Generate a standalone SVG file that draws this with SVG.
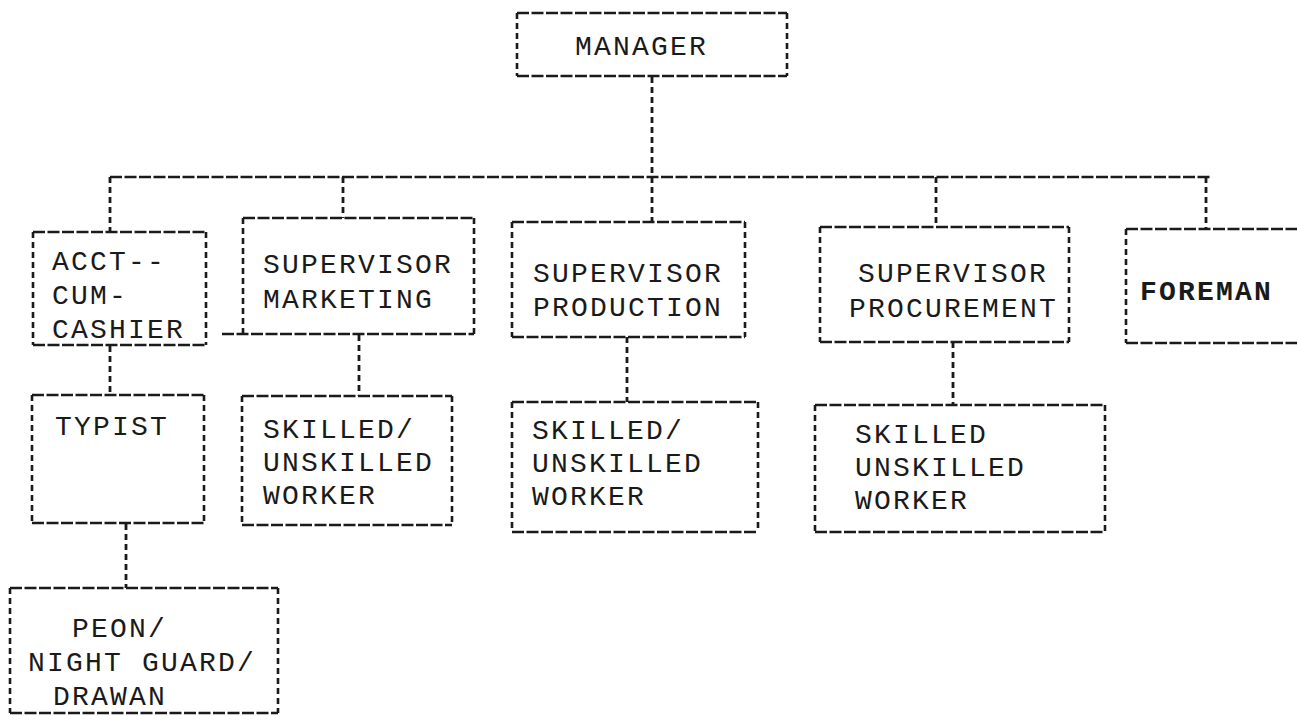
<svg xmlns="http://www.w3.org/2000/svg" width="1297" height="716" viewBox="0 0 1297 716">
<style>
.bg{fill:#ffffff}
.vbox{fill:none;stroke:#1a1a1a;stroke-width:2.6;stroke-dasharray:6 4}
.hline{fill:none;stroke:#1a1a1a;stroke-width:2.6;stroke-dasharray:12 2.5}
.vline{fill:none;stroke:#1a1a1a;stroke-width:2.8;stroke-dasharray:6 4}
text{font-family:"Liberation Mono","DejaVu Sans Mono",monospace;font-size:28px;letter-spacing:2.2px;fill:#1a1a1a}
.bold{font-weight:bold}
</style>
<rect class="bg" x="0" y="0" width="1297" height="716"/>
<g id="connectors">
<line class="vline" x1="652" y1="77" x2="652" y2="222"/>
<line class="hline" x1="110" y1="177" x2="1210" y2="177"/>
<line class="vline" x1="110" y1="177" x2="110" y2="232"/>
<line class="vline" x1="343" y1="177" x2="343" y2="218"/>
<line class="vline" x1="936" y1="177" x2="936" y2="227"/>
<line class="vline" x1="1206" y1="177" x2="1206" y2="229"/>
<line class="vline" x1="110" y1="346" x2="110" y2="395"/>
<line class="vline" x1="126" y1="524" x2="126" y2="588"/>
<line class="vline" x1="359" y1="335" x2="359" y2="396"/>
<line class="vline" x1="627" y1="337" x2="627" y2="402"/>
<line class="vline" x1="953" y1="342" x2="953" y2="405"/>
</g>
<g id="manager">
<line class="hline" x1="517" y1="13" x2="787" y2="13"/><line class="hline" x1="517" y1="76" x2="787" y2="76"/>
<line class="vbox" x1="517" y1="13" x2="517" y2="76"/><line class="vbox" x1="787" y1="13" x2="787" y2="76"/>
<text x="575" y="55">MANAGER</text>
</g>
<g id="acct">
<line class="hline" x1="33" y1="232" x2="206" y2="232"/><line class="hline" x1="33" y1="345" x2="206" y2="345"/>
<line class="vbox" x1="33" y1="232" x2="33" y2="345"/><line class="vbox" x1="206" y1="232" x2="206" y2="345"/>
<text x="52" y="270">ACCT--</text>
<text x="52" y="304">CUM-</text>
<text x="52" y="338">CASHIER</text>
</g>
<g id="sup-marketing">
<line class="hline" x1="243" y1="218" x2="474" y2="218"/><line class="hline" x1="222" y1="334" x2="474" y2="334"/>
<line class="vbox" x1="243" y1="218" x2="243" y2="334"/><line class="vbox" x1="474" y1="218" x2="474" y2="334"/>
<text x="263" y="273">SUPERVISOR</text>
<text x="263" y="308">MARKETING</text>
</g>
<g id="sup-production">
<line class="hline" x1="512" y1="222" x2="745" y2="222"/><line class="hline" x1="512" y1="337" x2="745" y2="337"/>
<line class="vbox" x1="512" y1="222" x2="512" y2="337"/><line class="vbox" x1="745" y1="222" x2="745" y2="337"/>
<text x="533" y="282">SUPERVISOR</text>
<text x="533" y="316">PRODUCTION</text>
</g>
<g id="sup-procurement">
<line class="hline" x1="820" y1="227" x2="1069" y2="227"/><line class="hline" x1="820" y1="342" x2="1069" y2="342"/>
<line class="vbox" x1="820" y1="227" x2="820" y2="342"/><line class="vbox" x1="1069" y1="227" x2="1069" y2="342"/>
<text x="858" y="282">SUPERVISOR</text>
<text x="849" y="317">PROCUREMENT</text>
</g>
<g id="foreman">
<line class="hline" x1="1126" y1="229" x2="1297" y2="229"/><line class="hline" x1="1126" y1="343" x2="1297" y2="343"/>
<line class="vbox" x1="1126" y1="229" x2="1126" y2="343"/>
<text class="bold" x="1140" y="300">FOREMAN</text>
</g>
<g id="typist">
<line class="hline" x1="32" y1="395" x2="204" y2="395"/><line class="hline" x1="32" y1="523" x2="204" y2="523"/>
<line class="vbox" x1="32" y1="395" x2="32" y2="523"/><line class="vbox" x1="204" y1="395" x2="204" y2="523"/>
<text x="55" y="435">TYPIST</text>
</g>
<g id="worker-marketing">
<line class="hline" x1="242" y1="396" x2="452" y2="396"/><line class="hline" x1="242" y1="525" x2="452" y2="525"/>
<line class="vbox" x1="242" y1="396" x2="242" y2="525"/><line class="vbox" x1="452" y1="396" x2="452" y2="525"/>
<text x="263" y="438">SKILLED/</text>
<text x="263" y="471">UNSKILLED</text>
<text x="263" y="504">WORKER</text>
</g>
<g id="worker-production">
<line class="hline" x1="512" y1="402" x2="758" y2="402"/><line class="hline" x1="512" y1="532" x2="758" y2="532"/>
<line class="vbox" x1="512" y1="402" x2="512" y2="532"/><line class="vbox" x1="758" y1="402" x2="758" y2="532"/>
<text x="532" y="439">SKILLED/</text>
<text x="532" y="472">UNSKILLED</text>
<text x="532" y="505">WORKER</text>
</g>
<g id="worker-procurement">
<line class="hline" x1="815" y1="405" x2="1105" y2="405"/><line class="hline" x1="815" y1="532" x2="1105" y2="532"/>
<line class="vbox" x1="815" y1="405" x2="815" y2="532"/><line class="vbox" x1="1105" y1="405" x2="1105" y2="532"/>
<text x="855" y="443">SKILLED</text>
<text x="855" y="476">UNSKILLED</text>
<text x="855" y="509">WORKER</text>
</g>
<g id="peon">
<line class="hline" x1="10" y1="588" x2="278" y2="588"/><line class="hline" x1="10" y1="713" x2="278" y2="713"/>
<line class="vbox" x1="10" y1="588" x2="10" y2="713"/><line class="vbox" x1="278" y1="588" x2="278" y2="713"/>
<text x="72" y="637">PEON/</text>
<text x="28" y="671">NIGHT GUARD/</text>
<text x="53" y="705">DRAWAN</text>
</g>
</svg>
